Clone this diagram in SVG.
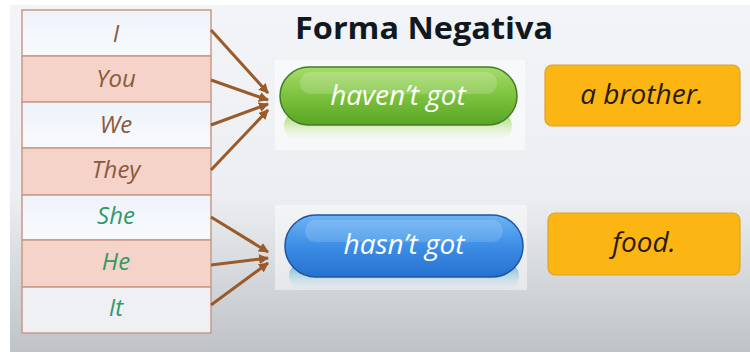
<svg xmlns="http://www.w3.org/2000/svg" width="750" height="352" viewBox="0 0 750 352">
<defs>
<linearGradient id="bg" x1="0" y1="0" x2="0" y2="1">
<stop offset="0" stop-color="#f2f4f8"/>
<stop offset="0.55" stop-color="#eceef1"/>
<stop offset="1" stop-color="#bfc3c7"/>
</linearGradient>
<linearGradient id="green" x1="0" y1="0" x2="0" y2="1">
<stop offset="0" stop-color="#a6dc6a"/>
<stop offset="0.5" stop-color="#7cc23e"/>
<stop offset="1" stop-color="#5aa424"/>
</linearGradient>
<linearGradient id="blue" x1="0" y1="0" x2="0" y2="1">
<stop offset="0" stop-color="#6cb4f4"/>
<stop offset="0.5" stop-color="#3c8ee6"/>
<stop offset="1" stop-color="#2670d0"/>
</linearGradient>
<linearGradient id="greenRef" x1="0" y1="0" x2="0" y2="1">
<stop offset="0" stop-color="#8ccf4c" stop-opacity="0.9"/>
<stop offset="1" stop-color="#d8f0b0" stop-opacity="0"/>
</linearGradient>
<linearGradient id="blueRef" x1="0" y1="0" x2="0" y2="1">
<stop offset="0" stop-color="#4aa6c8" stop-opacity="0.9"/>
<stop offset="1" stop-color="#c0e4ee" stop-opacity="0"/>
</linearGradient>
<linearGradient id="rowW" x1="0" y1="0" x2="0" y2="1">
<stop offset="0" stop-color="#eef3fa"/>
<stop offset="1" stop-color="#f8fafd"/>
</linearGradient>
<marker id="ah" markerWidth="10" markerHeight="10" refX="9" refY="5" orient="auto" markerUnits="userSpaceOnUse" viewBox="0 0 10 10">
<path d="M0,0 L10,5 L0,10 z" fill="#9a5a2a"/>
</marker>
<style>
.row text{font-family:"Open Sans","DejaVu Sans",sans-serif;font-style:italic;font-size:24px;text-anchor:middle}
.br{fill:#8a5a40}
.gr{fill:#2f9a6a}
.pink{fill:#f5d3c8}
.wh{fill:url(#rowW)}
.cell{stroke:#c89a88;stroke-width:1.5}
.conn line{stroke:#9a5a2a;stroke-width:3;marker-end:url(#ah)}
.pill text{font-family:"Open Sans","DejaVu Sans",sans-serif;font-style:italic;font-size:28px;fill:#ffffff;text-anchor:middle}
.box rect{fill:#fbb614;stroke:#e0a030;stroke-width:1.2}
.box text{font-family:"Open Sans","DejaVu Sans",sans-serif;font-style:italic;font-size:28px;fill:#2a1a10;text-anchor:middle}
</style>
</defs>
<rect width="750" height="352" fill="#ffffff"/>
<rect x="10" y="5" width="740" height="347" fill="url(#bg)"/>
<rect x="275" y="60" width="250" height="90" fill="#ffffff" opacity="0.5"/>
<rect x="275" y="205" width="252" height="85" fill="#ffffff" opacity="0.45"/>

<g id="title"><text x="295" y="39" font-family="Open Sans, Liberation Sans, sans-serif" font-weight="bold" font-size="30" fill="#101820" textLength="258" lengthAdjust="spacingAndGlyphs">Forma Negativa</text></g>

<g id="table">
<g id="row-I" class="row"><rect class="cell wh" x="22" y="10" width="189" height="46"/><text class="br" x="116" y="42">I</text></g>
<g id="row-You" class="row"><rect class="cell pink" x="22" y="56" width="189" height="46"/><text class="br" x="116" y="87">You</text></g>
<g id="row-We" class="row"><rect class="cell wh" x="22" y="102" width="189" height="46"/><text class="br" x="116" y="133">We</text></g>
<g id="row-They" class="row"><rect class="cell pink" x="22" y="148" width="189" height="47"/><text class="br" x="116" y="178">They</text></g>
<g id="row-She" class="row"><rect class="cell wh" x="22" y="195" width="189" height="45"/><text class="gr" x="116" y="224">She</text></g>
<g id="row-He" class="row"><rect class="cell pink" x="22" y="240" width="189" height="47"/><text class="gr" x="116" y="270">He</text></g>
<g id="row-It" class="row"><rect class="cell" fill="#eef0f3" x="22" y="287" width="189" height="46"/><text class="gr" x="116" y="316">It</text></g>
</g>

<g id="connectors" class="conn">
<line x1="211" y1="30" x2="268" y2="93"/>
<line x1="211" y1="80" x2="268" y2="100"/>
<line x1="211" y1="125" x2="268" y2="104"/>
<line x1="211" y1="170" x2="268" y2="110"/>
<line x1="211" y1="217" x2="268" y2="252"/>
<line x1="211" y1="265" x2="268" y2="258"/>
<line x1="211" y1="305" x2="268" y2="263"/>
</g>

<g id="haventgot" class="pill">
<rect x="284" y="112" width="228" height="28" rx="14" fill="url(#greenRef)"/>
<rect x="280" y="67" width="237" height="58" rx="29" fill="url(#green)" stroke="#3f7e24" stroke-width="1.5"/>
<rect x="300" y="72" width="197" height="22" rx="11" fill="#ffffff" opacity="0.18"/>
<text x="398" y="105">haven’t got</text>
</g>

<g id="hasntgot" class="pill">
<rect x="289" y="262" width="230" height="28" rx="14" fill="url(#blueRef)"/>
<rect x="285" y="215" width="238" height="62" rx="31" fill="url(#blue)" stroke="#1d55a0" stroke-width="1.5"/>
<rect x="305" y="220" width="198" height="22" rx="11" fill="#ffffff" opacity="0.15"/>
<text x="404" y="254">hasn’t got</text>
</g>

<g id="abrother" class="box">
<rect x="545" y="65" width="195" height="61" rx="7"/>
<text x="642" y="104">a brother.</text>
</g>

<g id="food" class="box">
<rect x="548" y="213" width="192" height="62" rx="7"/>
<text x="644" y="252">food.</text>
</g>
</svg>
